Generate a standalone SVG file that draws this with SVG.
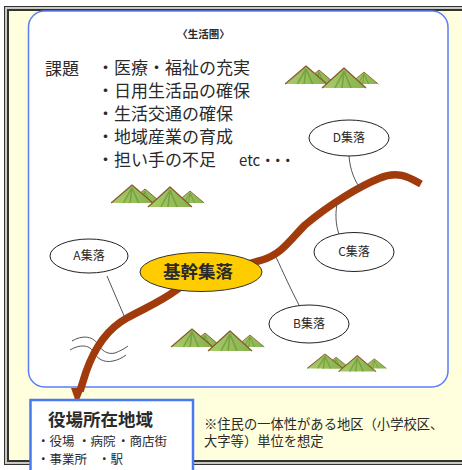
<svg xmlns="http://www.w3.org/2000/svg" width="462" height="470" viewBox="0 0 462 470">
  <style>
    .jp { font-family: "Noto Sans CJK JP", "Noto Sans", sans-serif; fill: #2a2a2a; }
    .list { font-size: 17px; }
    .lbl { font-size: 12px; text-anchor: middle; }
    .small { font-size: 12.5px; }
    .note { font-size: 13.3px; }
    .bold { font-weight: bold; }
    .village { fill: #ffffff; stroke: #222; stroke-width: 1; }
    .link { fill: none; stroke: #555; stroke-width: 1; }
    .river { fill: none; stroke: #555; stroke-width: 1; }
    .road { fill: none; stroke: #a23b0c; stroke-width: 7.5; stroke-linecap: butt; stroke-linejoin: round; }
  </style>
  <defs>
    <linearGradient id="hillFill" x1="0" y1="0" x2="1" y2="0">
      <stop offset="0" stop-color="#a9cc6c"/>
      <stop offset="1" stop-color="#86b24c"/>
    </linearGradient>
    <!-- one peak: apex at 0,0, base 44 wide and 20 high -->
    <g id="hill">
      <polygon points="-22,20 0,0 22,20" fill="url(#hillFill)"/>
      <path d="M0,3 L-9,20 M0,3 L-2,20 M0,3 L7,20" stroke="#6a9638" stroke-width="1.6" fill="none" opacity="0.7"/>
      <polyline points="-22,20 0,0 22,20" fill="none" stroke="#8a5a2e" stroke-width="1.3" stroke-linejoin="round"/>
    </g>
    <!-- cluster of four peaks, about 92 x 22 -->
    <g id="hills">
      <use href="#hill" transform="translate(33,4) scale(0.75,0.7)"/>
      <use href="#hill" transform="translate(20,0) scale(0.95,0.9)"/>
      <use href="#hill" transform="translate(78,6) scale(0.65,0.6)"/>
      <use href="#hill" transform="translate(58,2)"/>
    </g>
  </defs>

  <!-- outer frame -->
  <rect x="4.5" y="6.5" width="470" height="458" fill="#c9c9c0" stroke="#333" stroke-width="1"/>
  <rect x="8" y="10" width="470" height="451" fill="#ffffdd" stroke="#333" stroke-width="2"/>

  <!-- living area panel -->
  <rect x="28.5" y="11" width="419.5" height="376" rx="16" fill="#ffffff" stroke="#5b7cff" stroke-width="1.5"/>

  <text class="jp bold" x="203.5" y="38" font-size="10.5" text-anchor="middle">〈生活圏〉</text>

  <g id="issues" class="jp list">
    <text x="45" y="75">課題</text>
    <text x="97" y="73.5">・医療・福祉の充実</text>
    <text x="97" y="96.5">・日用生活品の確保</text>
    <text x="97" y="119.5">・生活交通の確保</text>
    <text x="97" y="142.5">・地域産業の育成</text>
    <text x="97" y="165.5">・担い手の不足</text>
    <text x="239" y="165.5" font-size="15">etc<tspan letter-spacing="-5">・・・</tspan></text>
  </g>

  <!-- hills -->
  <use href="#hills" transform="translate(286,66)"/>
  <use href="#hills" transform="translate(112,185)"/>
  <use href="#hills" transform="translate(172,329)"/>
  <use href="#hills" transform="translate(308,354) scale(0.85,0.8)"/>

  <!-- river -->
  <g id="river">
    <path class="river" d="M72,341 C82,335 92,336 97,343 C101,350 107,355 115,353 C120,351 124,349 128,346"/>
    <path class="river" d="M70,350 C80,344 89,345 93,351 C97,359 104,363 113,361 C118,360 122,358 126,355"/>
  </g>

  <!-- connectors -->
  <g id="connectors">
    <path class="road" d="M421,184 C410,178 398,170 380,178 C360,186 330,204 305,225 C290,240 282,254 262,260 C235,268 200,272 175,291 C160,302 145,308 127,318 C105,330 93,352 86,372 L80,391"/>
    <polygon points="71,388 84,388 77,405" fill="#a23b0c"/>
    <path class="link" d="M107,276 L125,318"/>
    <path class="link" d="M349,156 C350,170 355,182 361,189"/>
    <path class="link" d="M337,204 C335,215 336,226 339,234"/>
    <path class="link" d="M276,257 C283,272 291,290 299,305"/>
  </g>

  <g id="village-a">
    <ellipse class="village" cx="89" cy="256" rx="39" ry="17"/>
    <text class="jp lbl" x="89" y="260">A集落</text>
  </g>
  <g id="village-d">
    <ellipse class="village" cx="349" cy="138" rx="40" ry="18"/>
    <text class="jp lbl" x="349" y="142">D集落</text>
  </g>
  <g id="village-c">
    <ellipse class="village" cx="354" cy="252" rx="40" ry="19.5"/>
    <text class="jp lbl" x="354" y="256">C集落</text>
  </g>
  <g id="village-b">
    <ellipse class="village" cx="309" cy="324" rx="40" ry="19"/>
    <text class="jp lbl" x="309" y="328">B集落</text>
  </g>
  <g id="core-village">
    <ellipse cx="201" cy="272" rx="61" ry="19.5" fill="#ffcc00" stroke="#333" stroke-width="1"/>
    <text class="jp bold" x="198" y="278" font-size="17.5" text-anchor="middle" fill="#111">基幹集落</text>
  </g>

  <g id="town-office-area">
    <rect x="30.5" y="400" width="162.5" height="80" fill="#ffffff" stroke="#4a78f5" stroke-width="2.5"/>
    <text class="jp bold" x="48" y="426" font-size="17.5">役場所在地域</text>
    <text class="jp small" x="37" y="446">・役場</text>
    <text class="jp small" x="78" y="446">・病院</text>
    <text class="jp small" x="117" y="446">・商店街</text>
    <text class="jp small" x="37" y="464">・事業所</text>
    <text class="jp small" x="98" y="464">・駅</text>
  </g>

  <g id="note" class="jp note">
    <text x="204" y="428.5">※住民の一体性がある地区（小学校区、</text>
    <text x="204" y="446">大字等）単位を想定</text>
  </g>
</svg>
